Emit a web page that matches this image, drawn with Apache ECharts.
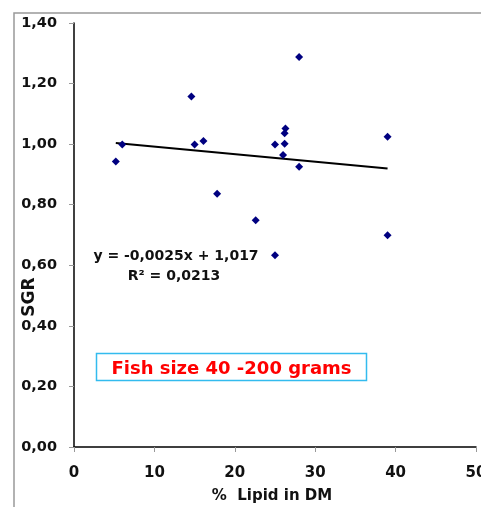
<!DOCTYPE html>
<html>
<head>
<meta charset="utf-8">
<script src="https://cdn.jsdelivr.net/npm/echarts@6/dist/echarts.min.js"></script>
<style>html,body{margin:0;padding:0;background:#fff;}#c{width:481px;height:507px;}</style>
</head>
<body>
<div id="c"></div>
<script>
// Data
var lipidX = [5.2, 6.0, 14.6, 15.0, 16.1, 17.8, 22.6, 25.0, 26.0, 26.2, 26.2, 26.3, 28.0, 28.0, 39.0, 39.0, 25.0];
var sgrY   = [0.943, 0.999, 1.157, 0.999, 1.010, 0.836, 0.749, 0.999, 0.964, 1.001, 1.036, 1.052, 1.288, 0.925, 1.024, 0.699, 0.633];
var trendSlope = -0.0025;
var trendIntercept = 1.017;
var xTicks = [0, 10, 20, 30, 40, 50];
var yTicks = ['0,00', '0,20', '0,40', '0,60', '0,80', '1,00', '1,20', '1,40'];
var equationText = 'y = -0,0025x + 1,017';
var r2Text = 'R² = 0,0213';
var boxText = 'Fish size 40 -200 grams';
var xName = '%  Lipid in DM';
var yName = 'SGR';

var points = lipidX.map(function (x, i) { return [x, sgrY[i]]; });
var xMin = Math.min.apply(null, lipidX), xMax = Math.max.apply(null, lipidX);
var trend = [[xMin, trendIntercept + trendSlope * xMin], [xMax, trendIntercept + trendSlope * xMax]];

var FONT = '"DejaVu Sans", Verdana, sans-serif';
var chart = echarts.init(document.getElementById('c'), null, {renderer: 'canvas'});
chart.setOption({
  animation: false,
  backgroundColor: '#fff',
  grid: {left: 74, right: 5, top: 23, bottom: 60, containLabel: false, outerBoundsMode: 'none'},
  xAxis: {
    type: 'value', min: 0, max: 50, interval: 10,
    axisLine: {show: true, onZero: false, lineStyle: {color: '#000', width: 1.5}},
    axisTick: {show: true, length: 5, lineStyle: {color: '#999', width: 1}},
    splitLine: {show: false},
    axisLabel: {
      margin: 19, color: '#111', fontFamily: FONT, fontWeight: 'bold', fontSize: 15,
      showMaxLabel: true, hideOverlap: false,
      formatter: function (v) { return xTicks.indexOf(v) >= 0 ? String(v) : ''; }
    }
  },
  yAxis: {
    type: 'value', min: 0, max: 1.4, interval: 0.2,
    axisLine: {show: true, onZero: false, lineStyle: {color: '#000', width: 1.5}},
    axisTick: {show: true, length: 5, lineStyle: {color: '#999', width: 1}},
    splitLine: {show: false},
    axisLabel: {
      margin: 17, color: '#111', fontFamily: FONT, fontWeight: 'bold', fontSize: 14.5,
      formatter: function (v) { return yTicks[Math.round(v / 0.2)]; }
    }
  },
  graphic: [
    {type: 'rect', silent: true, z: -1, shape: {x: 14, y: 13, width: 700, height: 700},
     style: {fill: 'none', stroke: '#999', lineWidth: 1.5}},
    {type: 'text', x: 176, y: 256, z: 10,
     style: {text: equationText, fill: '#111', font: 'bold 14px ' + FONT, textAlign: 'center', textVerticalAlign: 'middle'}},
    {type: 'text', x: 174, y: 276, z: 10,
     style: {text: r2Text, fill: '#111', font: 'bold 14px ' + FONT, textAlign: 'center', textVerticalAlign: 'middle'}},
    {type: 'rect', z: 10, shape: {x: 96.5, y: 353.5, width: 270, height: 27},
     style: {fill: '#fff', stroke: '#33bbee', lineWidth: 1.5}},
    {type: 'text', x: 231.5, y: 369.5, z: 11,
     style: {text: boxText, fill: '#ff0000', font: 'bold 18px ' + FONT, textAlign: 'center', textVerticalAlign: 'middle'}},
    {type: 'text', x: 272, y: 496, z: 10,
     style: {text: xName, fill: '#111', font: 'bold 15px ' + FONT, textAlign: 'center', textVerticalAlign: 'middle'}},
    {type: 'text', x: 30, y: 297, rotation: Math.PI / 2, z: 10,
     style: {text: yName, fill: '#111', font: 'bold 17px ' + FONT, textAlign: 'center', textVerticalAlign: 'middle'}}
  ],
  series: [
    {type: 'line', data: trend, symbol: 'none', lineStyle: {color: '#000', width: 2}, z: 2, silent: true},
    {type: 'scatter', data: points, symbol: 'diamond', symbolSize: 8, itemStyle: {color: '#000080', opacity: 1}, z: 3}
  ]
});
</script>
</body>
</html>
